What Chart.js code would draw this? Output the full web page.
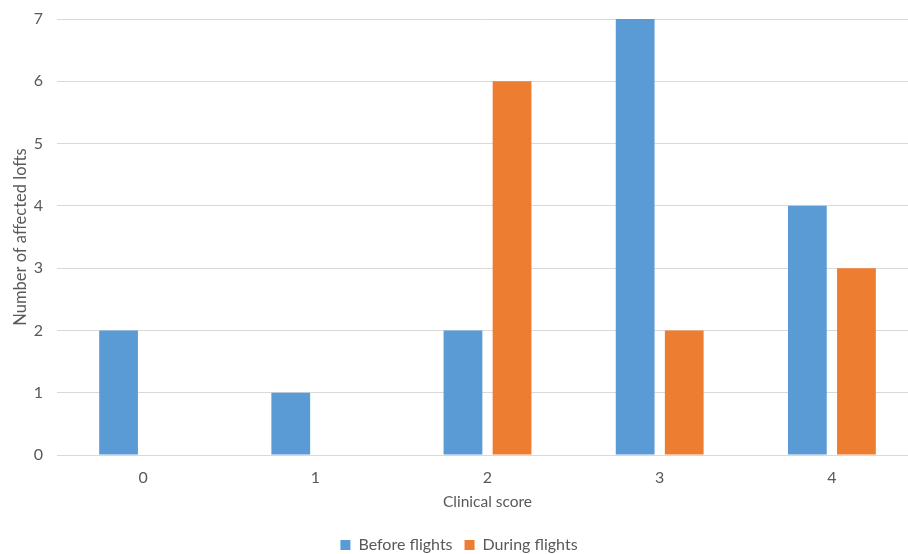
<!DOCTYPE html>
<html>
<head>
<meta charset="utf-8">
<script src="https://cdn.jsdelivr.net/npm/chart.js@4.4.1/dist/chart.umd.min.js"></script>
<style>
  html, body { margin: 0; padding: 0; background: #fff; overflow: hidden; }
  #wrap { width: 918px; height: 554px; }
</style>
</head>
<body>
<div id="wrap"><canvas id="c" width="918" height="554"></canvas></div>
<script>
// Clinical score categories and number of affected lofts per period
const categories = ['0', '1', '2', '3', '4'];
const beforeFlights = [2, 1, 2, 7, 4];
const duringFlights = [0, 0, 6, 2, 3];
const yTicks = [0, 1, 2, 3, 4, 5, 6, 7];

const TEXT = '#595959';
const FONT = 'Lato, "Open Sans", sans-serif';

// Nudge the legend row a little lower than the default layout puts it
const legendShift = {
  id: 'legendShift',
  afterLayout(chart) {
    const lg = chart.legend;
    if (!lg) return;
    const dy = 9;
    lg.top += dy; lg.bottom += dy;
    if (lg.legendHitBoxes) lg.legendHitBoxes.forEach(b => { b.top += dy; });
  }
};

new Chart(document.getElementById('c'), {
  type: 'bar',
  data: {
    labels: categories,
    datasets: [
      { label: 'Before flights', data: beforeFlights, backgroundColor: '#5B9BD5', borderWidth: 0 },
      { label: 'During flights', data: duringFlights, backgroundColor: '#ED7D31', borderWidth: 0 }
    ]
  },
  plugins: [legendShift],
  options: {
    responsive: false,
    animation: false,
    categoryPercentage: 0.57,
    barPercentage: 0.79,
    layout: { padding: { top: 19, right: 0, bottom: 0, left: 0 } },
    plugins: {
      tooltip: { enabled: false },
      legend: {
        position: 'bottom',
        labels: {
          color: TEXT,
          font: { family: FONT, size: 16 },
          boxWidth: 10,
          boxHeight: 10,
          padding: 12
        }
      }
    },
    scales: {
      x: {
        grid: { display: false, drawTicks: false },
        border: { color: '#D9D9D9', width: 1 },
        ticks: { color: TEXT, font: { family: FONT, size: 16 }, padding: 13 },
        title: { display: true, text: 'Clinical score', color: TEXT, font: { family: FONT, size: 15.5 }, padding: { top: 6, bottom: 5 } },
        afterFit: s => { s.height = 61; }
      },
      y: {
        min: 0, max: 7,
        afterBuildTicks: s => { s.ticks = yTicks.map(v => ({ value: v })); },
        grid: { color: '#D9D9D9', lineWidth: 1, drawTicks: false },
        border: { display: false },
        ticks: { color: TEXT, font: { family: FONT, size: 16 }, padding: 14 },
        title: { display: true, text: 'Number of affected lofts', color: TEXT, font: { family: FONT, size: 16.5 }, padding: { top: 11, bottom: 0 } },
        afterFit: s => { s.width = 57; s.paddingTop = 0; s.paddingBottom = 0; }
      }
    }
  }
});
</script>
</body>
</html>
